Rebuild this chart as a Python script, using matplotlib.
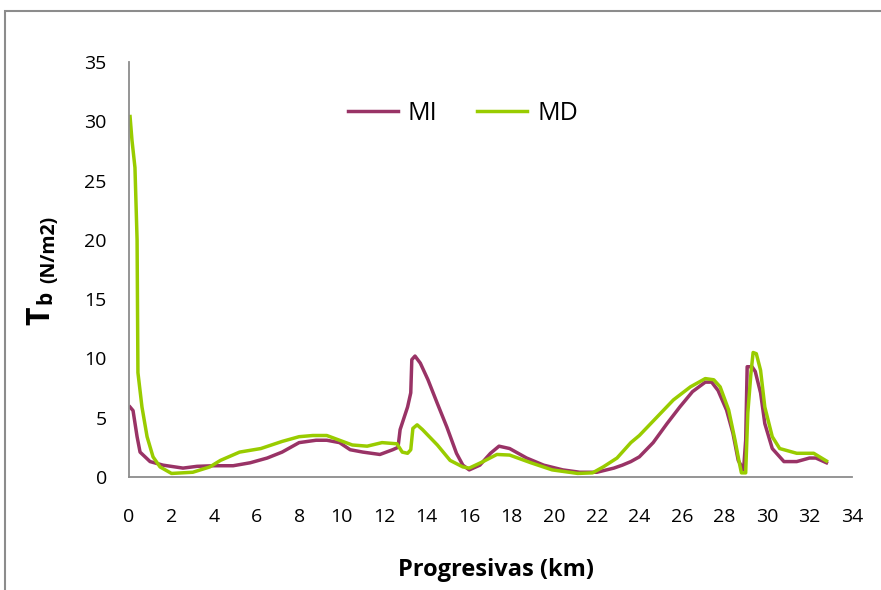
import matplotlib.pyplot as plt
from matplotlib.patches import Rectangle

# progresivas (km) and Tb (N/m2)
mi_km = [0.05, 0.19, 0.38, 0.52, 0.99, 1.6, 2.54, 3.2, 4.0, 4.9, 5.7, 6.5, 7.2, 8.0, 8.8, 9.3,
         9.9, 10.4, 11.0, 11.8, 12.4, 12.65, 12.75, 13.1, 13.25, 13.3, 13.45, 13.7, 14.06,
         14.5, 14.95, 15.4, 15.7, 16.0, 16.5, 17.0, 17.4, 17.9, 18.7, 19.5, 20.4, 21.2,
         22.0, 22.8, 23.2, 23.6, 24.0, 24.65, 25.3, 25.9, 26.5, 27.1, 27.4, 27.7, 28.1,
         28.4, 28.65, 28.9, 29.0, 29.07, 29.3, 29.45, 29.7, 29.9, 30.25, 30.8, 31.4, 32.0,
         32.3, 32.8]
mi_tb = [5.9, 5.6, 3.4, 2.1, 1.3, 1.0, 0.75, 0.9, 0.95, 0.95, 1.2, 1.6, 2.1, 2.9, 3.1, 3.1,
         2.9, 2.3, 2.1, 1.9, 2.3, 2.5, 4.0, 5.9, 7.1, 9.9, 10.2, 9.6, 8.2,
         6.2, 4.2, 2.0, 1.0, 0.6, 1.0, 2.0, 2.6, 2.4, 1.6, 1.0, 0.6, 0.4,
         0.4, 0.75, 1.0, 1.3, 1.7, 2.9, 4.5, 5.9, 7.2, 8.0, 8.0, 7.3, 5.65,
         3.7, 1.4, 0.6, 3.1, 9.3, 9.3, 8.9, 7.1, 4.5, 2.4, 1.3, 1.3, 1.6,
         1.6, 1.2]

md_km = [0.05, 0.14, 0.28, 0.38, 0.42, 0.61, 0.85, 1.13, 1.46, 2.0, 3.0, 3.8, 4.3, 5.2, 6.2,
         7.2, 8.0, 8.65, 9.3, 9.9, 10.5, 11.2, 11.9, 12.6, 12.85, 13.1, 13.25, 13.35, 13.55,
         13.8, 14.5, 15.1, 15.7, 16.0, 16.65, 17.3, 17.9, 18.9, 19.9, 21.1, 21.8, 22.3,
         22.95, 23.6, 24.0, 24.8, 25.6, 26.4, 27.1, 27.5, 27.8, 28.2, 28.5, 28.7, 28.8,
         29.0, 29.1, 29.25, 29.35, 29.5, 29.7, 29.9, 30.25, 30.6, 31.4, 32.2, 32.8]
md_tb = [30.4, 28.4, 26.1, 20.0, 8.8, 5.9, 3.4, 1.7, 0.85, 0.3, 0.4, 0.85, 1.4, 2.1, 2.4,
         3.0, 3.4, 3.5, 3.5, 3.1, 2.7, 2.6, 2.9, 2.8, 2.1, 2.0, 2.3, 4.1, 4.4,
         4.0, 2.7, 1.4, 0.85, 0.75, 1.3, 1.9, 1.85, 1.2, 0.6, 0.3, 0.35, 0.85,
         1.6, 2.9, 3.5, 5.0, 6.5, 7.6, 8.3, 8.2, 7.6, 5.65, 3.1, 1.2, 0.35,
         0.35, 5.4, 8.8, 10.5, 10.4, 9.0, 5.9, 3.4, 2.4, 2.0, 2.0, 1.35]

x_ticks = list(range(0, 36, 2))
y_ticks = list(range(0, 40, 5))

W, H = 881, 590
fig = plt.figure(figsize=(W / 100, H / 100), dpi=100)
plt.rcParams['font.family'] = ['Open Sans', 'DejaVu Sans']

# outer frame (runs off the right and bottom edge like the original)
fig.patches.append(Rectangle((5 / W, -0.1), 1.2, 1 - 11 / H + 0.1, transform=fig.transFigure,
                             fill=False, edgecolor='#8c8c8c', linewidth=1.5))

ax = fig.add_axes([129 / W, 1 - 477 / H, (852 - 129) / W, (477 - 62) / H])
ax.plot(mi_km, mi_tb, color='#993366', linewidth=2.5, label='MI')
ax.plot(md_km, md_tb, color='#99cc00', linewidth=2.5, label='MD')

ax.set_xlim(0, 34)
ax.set_ylim(0, 35)
ax.set_xticks(x_ticks)
ax.set_yticks(y_ticks)
ax.tick_params(labelsize=14, length=0)
ax.tick_params(axis='x', pad=22)
ax.tick_params(axis='y', pad=16)
for s in ['top', 'right']:
    ax.spines[s].set_visible(False)
for s in ['left', 'bottom']:
    ax.spines[s].set_color('#8c8c8c')
    ax.spines[s].set_linewidth(1.3)

ax.legend(ncol=2, frameon=False, fontsize=18, handlelength=2.0, handletextpad=0.4,
          columnspacing=1.6, loc='center left', bbox_to_anchor=(325 / W, 1 - 113 / H),
          bbox_transform=fig.transFigure)

fig.text(496 / W, 1 - 570 / H, 'Progresivas (km)', ha='center', va='center',
         fontsize=17, fontweight='bold')
# y label: big T, subscript b, then units
fig.text(41 / W, 1 - 316 / H, 'T', rotation=90, ha='center', va='center',
         fontsize=23, fontweight='bold')
fig.text(46 / W, 1 - 297 / H, 'b', rotation=90, ha='center', va='center',
         fontsize=15, fontweight='bold')
fig.text(49 / W, 1 - 249 / H, '(N/m2)', rotation=90, ha='center', va='center',
         fontsize=14, fontweight='bold')

fig.savefig('out.png', dpi=100)
